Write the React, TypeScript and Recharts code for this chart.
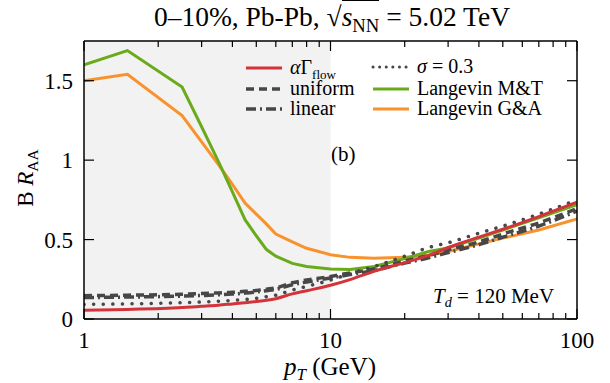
import React from 'react';
import { LineChart, Line, XAxis, YAxis, ReferenceArea } from 'recharts';

// pT grid (GeV) shared by all curves
const pT = [1, 1.5, 2.5, 3, 3.5, 4, 4.5, 5, 5.5, 6, 7, 8, 10, 12, 15, 20, 25, 30, 40, 50, 70, 100];

const alphaFlow = [0.055, 0.06, 0.072, 0.08, 0.087, 0.095, 0.102, 0.11, 0.118, 0.128, 0.158, 0.178, 0.212, 0.248, 0.3, 0.355, 0.4, 0.45, 0.515, 0.565, 0.645, 0.735];
const uniform = [0.147, 0.15, 0.156, 0.16, 0.164, 0.168, 0.174, 0.18, 0.188, 0.196, 0.228, 0.245, 0.268, 0.29, 0.315, 0.365, 0.4, 0.435, 0.485, 0.535, 0.605, 0.695];
const linear = [0.135, 0.138, 0.144, 0.148, 0.152, 0.157, 0.163, 0.17, 0.178, 0.186, 0.216, 0.233, 0.258, 0.28, 0.305, 0.352, 0.385, 0.418, 0.468, 0.515, 0.585, 0.68];
const sigma03 = [0.092, 0.095, 0.103, 0.107, 0.112, 0.117, 0.123, 0.13, 0.14, 0.15, 0.182, 0.205, 0.245, 0.285, 0.33, 0.395, 0.45, 0.48, 0.54, 0.585, 0.66, 0.75];
const langevinMT = [1.6, 1.69, 1.46, 1.21, 0.995, 0.8, 0.625, 0.524, 0.437, 0.395, 0.35, 0.33, 0.315, 0.312, 0.33, 0.38, 0.425, 0.447, 0.51, 0.56, 0.637, 0.72];
const langevinGA = [1.5, 1.54, 1.28, 1.115, 0.975, 0.847, 0.73, 0.66, 0.597, 0.535, 0.485, 0.445, 0.405, 0.388, 0.383, 0.388, 0.4, 0.425, 0.473, 0.509, 0.56, 0.63];

const xTicks = [1, 2, 3, 4, 5, 6, 7, 8, 9, 10, 20, 30, 40, 50, 60, 70, 80, 90, 100];
const xMajor = [1, 10, 100];
const yTicks = [0, 0.5, 1, 1.5];

const data = pT.map((p, i) => ({
  pT: p,
  alphaFlow: alphaFlow[i],
  uniform: uniform[i],
  linear: linear[i],
  sigma03: sigma03[i],
  langevinMT: langevinMT[i],
  langevinGA: langevinGA[i],
}));

const serif = '"Liberation Serif", "DejaVu Serif", serif';
const RED = '#d3343a';
const GREEN = '#6aab1c';
const ORANGE = '#f7922c';
const GRAY = '#474747';

const BottomTick = (props: any) => {
  const { x, y, payload } = props;
  const major = xMajor.includes(payload.value);
  return (
    <g>
      <line x1={x} x2={x} y1={y} y2={y - (major ? 10 : 6)} stroke="#000" strokeWidth={1.2} />
      {major && (
        <text x={x} y={y + 29} textAnchor="middle" fontSize={23} fontFamily={serif} fill="#000">
          {payload.value}
        </text>
      )}
    </g>
  );
};

const TopTick = (props: any) => {
  const { x, y, payload } = props;
  const major = xMajor.includes(payload.value);
  return <line x1={x} x2={x} y1={y} y2={y + (major ? 10 : 6)} stroke="#000" strokeWidth={1.2} />;
};

const LeftTick = (props: any) => {
  const { x, y, payload } = props;
  return (
    <g>
      <line x1={x} x2={x + 10} y1={y} y2={y} stroke="#000" strokeWidth={1.2} />
      <text x={x - 11} y={y + 8} textAnchor="end" fontSize={23} fontFamily={serif} fill="#000">
        {payload.value}
      </text>
    </g>
  );
};

const RightTick = (props: any) => {
  const { x, y } = props;
  return <line x1={x} x2={x - 10} y1={y} y2={y} stroke="#000" strokeWidth={1.2} />;
};

const sub: React.CSSProperties = { fontSize: '0.68em', position: 'relative', top: '0.3em' };

const legendRows = [
  { x: 246, y: 68, color: RED, width: 3, dash: undefined, cap: 'butt', label: 'flow' },
  { x: 246, y: 89, color: GRAY, width: 3.5, dash: '8 5', cap: 'butt', label: 'uniform' },
  { x: 246, y: 109, color: GRAY, width: 3.5, dash: '10 4 2 4', cap: 'butt', label: 'linear' },
  { x: 373, y: 67, color: GRAY, width: 3, dash: '0.1 6.5', cap: 'round', label: 'sigma' },
  { x: 373, y: 89, color: GREEN, width: 3, dash: undefined, cap: 'butt', label: 'Langevin M&T' },
  { x: 373, y: 109, color: ORANGE, width: 3, dash: undefined, cap: 'butt', label: 'Langevin G&A' },
];

const legendText = (label: string) => {
  if (label === 'flow') {
    return (
      <>
        <tspan fontStyle="italic">α</tspan>Γ<tspan fontSize={13} dy={5}>flow</tspan>
      </>
    );
  }
  if (label === 'sigma') {
    return (
      <>
        <tspan fontStyle="italic">σ</tspan> = 0.3
      </>
    );
  }
  return label;
};

const LegendOverlay = () => (
  <svg width={610} height={383} style={{ position: 'absolute', left: 0, top: 0, pointerEvents: 'none' }}>
    {legendRows.map((r) => (
      <g key={r.label}>
        <line x1={r.x} x2={r.x + 36} y1={r.y} y2={r.y} stroke={r.color} strokeWidth={r.width}
          strokeDasharray={r.dash} strokeLinecap={r.cap as any} />
        <text x={r.x + 44} y={r.y + 6} fontSize={20} fontFamily={serif} fill="#000">
          {legendText(r.label)}
        </text>
      </g>
    ))}
  </svg>
);

const App: React.FC = () => {
  const axisLine = { stroke: '#000', strokeWidth: 1.5 };
  return (
    <div style={{ position: 'absolute', left: 0, top: 0, width: 610, height: 383, background: '#fff', fontFamily: serif, color: '#000' }}>
      <LineChart width={610} height={383} data={data} margin={{ top: 40, right: 32, bottom: 63, left: 83 }}>
        <XAxis dataKey="pT" type="number" scale="log" domain={[1, 100]} allowDataOverflow ticks={xTicks} interval={0}
          height={1} tickSize={0} tickMargin={0} tick={BottomTick} axisLine={axisLine} tickLine={false} />
        <XAxis xAxisId="top" orientation="top" dataKey="pT" type="number" scale="log" domain={[1, 100]} allowDataOverflow ticks={xTicks} interval={0}
          height={1} tickSize={0} tickMargin={0} tick={TopTick} axisLine={axisLine} tickLine={false} />
        <YAxis type="number" domain={[0, 1.75]} allowDataOverflow ticks={yTicks} interval={0}
          width={1} tickSize={0} tickMargin={0} tick={LeftTick} axisLine={axisLine} tickLine={false} />
        <YAxis yAxisId="right" orientation="right" type="number" domain={[0, 1.75]} allowDataOverflow ticks={yTicks} interval={0}
          width={1} tickSize={0} tickMargin={0} tick={RightTick} axisLine={axisLine} tickLine={false} />
        <ReferenceArea x1={1} x2={10} y1={0} y2={1.75} fill="#f2f2f2" fillOpacity={1} stroke="none" />
        <Line dataKey="langevinGA" type="linear" stroke={ORANGE} strokeWidth={3} dot={false} isAnimationActive={false} />
        <Line dataKey="langevinMT" type="linear" stroke={GREEN} strokeWidth={3} dot={false} isAnimationActive={false} />
        <Line dataKey="uniform" type="monotone" stroke={GRAY} strokeWidth={3.5} strokeDasharray="8 5" dot={false} isAnimationActive={false} />
        <Line dataKey="linear" type="monotone" stroke={GRAY} strokeWidth={3.5} strokeDasharray="10 4 2 4" dot={false} isAnimationActive={false} />
        <Line dataKey="sigma03" type="monotone" stroke={GRAY} strokeWidth={3.5} strokeDasharray="0.1 9.5" strokeLinecap="round" dot={false} isAnimationActive={false} />
        <Line dataKey="alphaFlow" type="monotone" stroke={RED} strokeWidth={3} dot={false} isAnimationActive={false} />
      </LineChart>

      <LegendOverlay />

      <div style={{ position: 'absolute', left: 0, width: 664, top: 1, textAlign: 'center', fontSize: 27.5, whiteSpace: 'nowrap' }}>
        0–10%, Pb-Pb, √<span style={{ borderTop: '1.5px solid #000' }}><i>s</i><span style={sub}>NN</span></span> = 5.02 TeV
      </div>

      <div style={{ position: 'absolute', left: 26, top: 178, transform: 'translate(-50%, -50%) rotate(-90deg)', fontSize: 23, whiteSpace: 'nowrap' }}>
        B <i>R</i><span style={sub}>AA</span>
      </div>

      <div style={{ position: 'absolute', left: 330, top: 367, transform: 'translate(-50%, -50%)', fontSize: 25, whiteSpace: 'nowrap' }}>
        <i>p</i><span style={sub}><i>T</i></span> (GeV)
      </div>

      <div style={{ position: 'absolute', left: 331, top: 142, fontSize: 21 }}>(b)</div>

      <div style={{ position: 'absolute', left: 433, top: 284, fontSize: 21, whiteSpace: 'nowrap' }}>
        <i>T</i><span style={sub}><i>d</i></span> = 120 MeV
      </div>
    </div>
  );
};

export default App;
